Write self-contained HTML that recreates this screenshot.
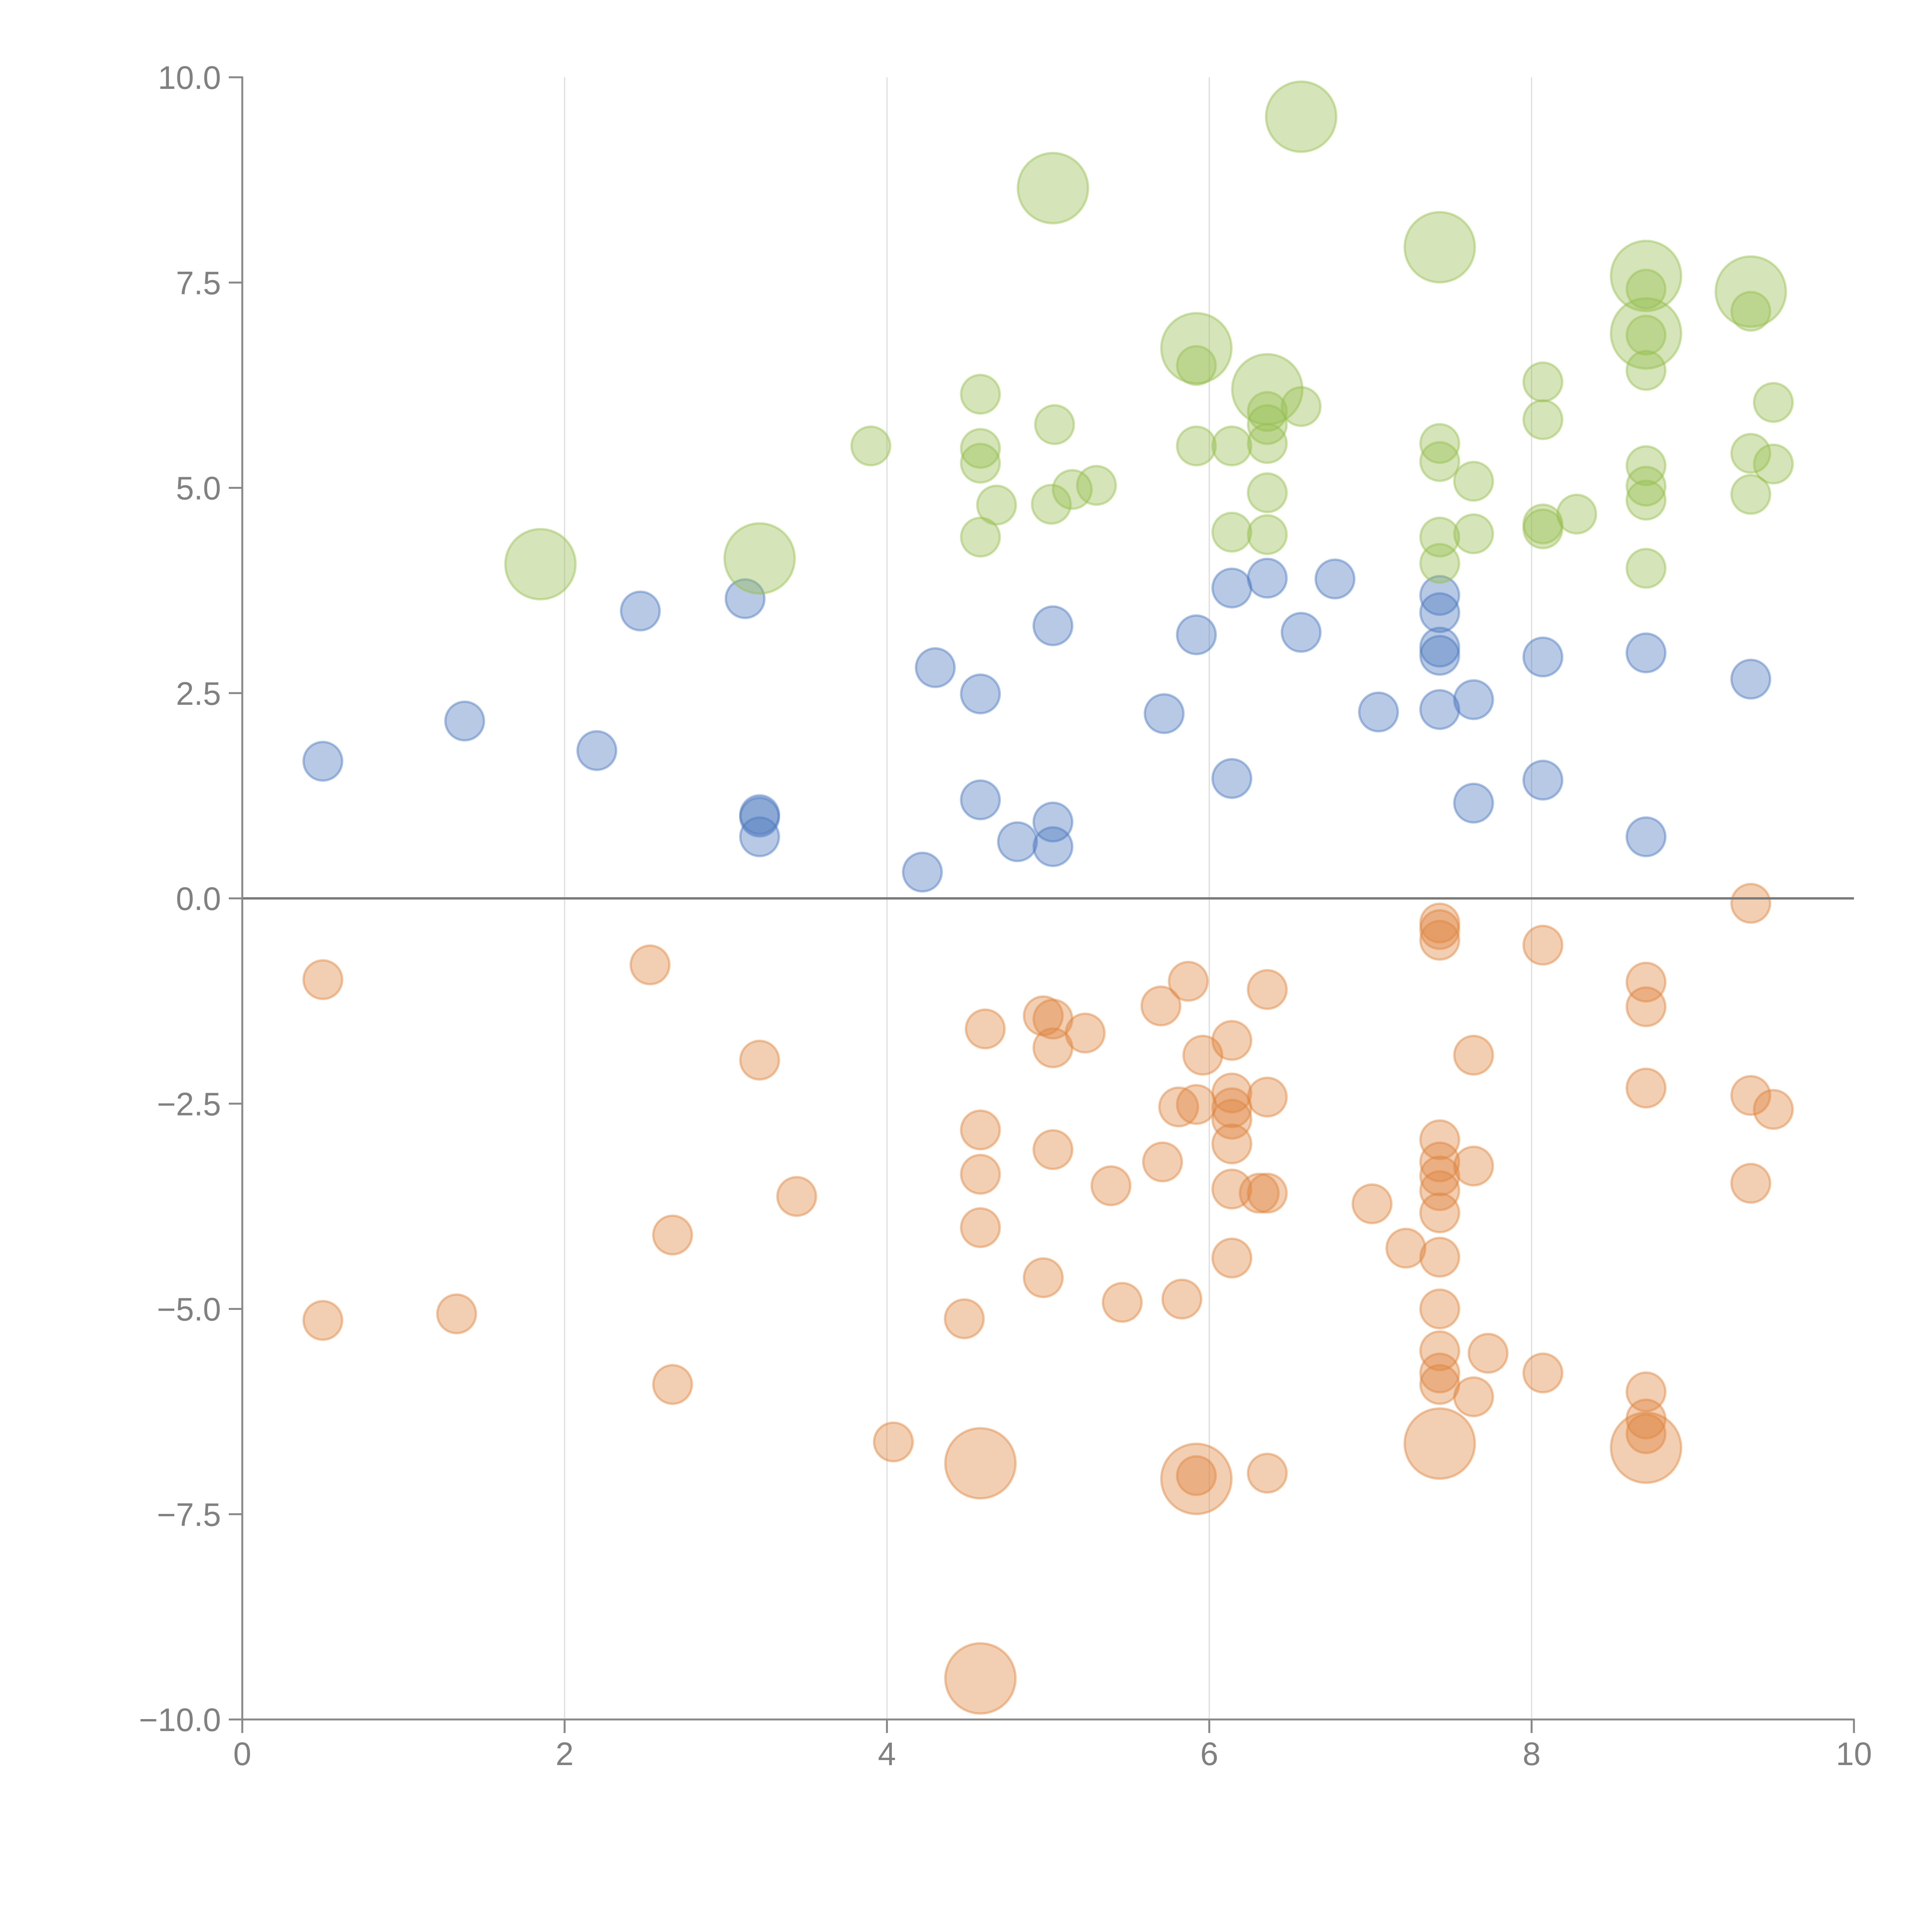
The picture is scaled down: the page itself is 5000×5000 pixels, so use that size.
<!DOCTYPE html>
<html><head><meta charset="utf-8"><style>
html,body{margin:0;padding:0;background:#fff;}
svg{display:block;}
text{font-family:"Liberation Sans",Arial,sans-serif;fill:#808080;font-size:84px;}
</style></head><body>
<svg id="chart" width="5000" height="5000" viewBox="0 0 5000 5000" xmlns="http://www.w3.org/2000/svg">
<g id="grid"></g>
<g id="marks"></g>
<g id="axes"></g>
</svg>
<script>
const xTicks=[0,2,4,6,8,10];
const xTickLabels=["0","2","4","6","8","10"];
const yTicks=[-10,-7.5,-5,-2.5,0,2.5,5,7.5,10];
const yTickLabels=["\u221210.0","\u22127.5","\u22125.0","\u22122.5","0.0","2.5","5.0","7.5","10.0"];

const blueX=[0.50,1.38,2.20,2.47,3.12,3.21,3.21,3.21,4.22,4.30,4.58,4.58,4.81,5.03,5.03,5.03,5.72,5.92,6.14,6.14,6.36,6.57,6.78,7.05,7.43,7.43,7.43,7.43,7.43,7.64,7.64,8.07,8.07,8.71,8.71,9.36];
const blueY=[1.67,2.16,1.80,3.50,3.65,0.99,1.02,0.75,0.32,2.81,2.49,1.20,0.69,3.32,0.93,0.63,2.25,3.21,3.78,1.46,3.90,3.24,3.89,2.27,3.69,3.48,3.06,2.96,2.30,2.42,1.16,2.94,1.44,2.99,0.75,2.67];
const blueS=blueX.map(()=>1);

const greenX=[3.90,4.58,4.58,4.58,4.58,4.68,5.02,5.04,5.15,5.30,5.92,5.92,6.14,6.14,6.36,6.36,6.36,6.36,6.36,6.57,7.43,7.43,7.43,7.43,7.64,7.64,8.07,8.07,8.07,8.07,8.28,8.71,8.71,8.71,8.71,8.71,8.71,8.71,9.36,9.36,9.36,9.50,9.50,
 1.85,3.21,5.03,5.92,6.36,6.57,7.43,8.71,8.71,9.36];
const greenY=[5.51,6.14,5.48,5.30,4.40,4.79,4.80,5.77,4.98,5.03,6.49,5.51,5.51,4.46,5.93,5.77,5.54,4.94,4.43,5.99,5.54,5.32,4.40,4.08,5.08,4.44,6.29,5.83,4.56,4.50,4.68,7.42,6.86,6.43,5.27,5.02,4.85,4.02,7.15,5.42,4.92,6.04,5.29,
 4.07,4.14,8.65,6.70,6.20,9.52,7.93,7.58,6.88,7.39];
const greenS=[1,1,1,1,1,1,1,1,1,1,1,1,1,1,1,1,1,1,1,1,1,1,1,1,1,1,1,1,1,1,1,1,1,1,1,1,1,1,1,1,1,1,1,
 3.3,3.3,3.3,3.3,3.3,3.3,3.3,3.3,3.3,3.3];

const orangeX=[0.50,0.50,1.33,2.53,2.67,2.67,3.21,3.44,4.04,4.48,4.58,4.58,4.58,4.61,4.97,4.97,5.03,5.03,5.03,5.23,5.39,5.46,5.70,5.71,5.81,5.83,5.87,5.92,5.92,5.96,6.14,6.14,6.14,6.14,6.14,6.14,6.14,6.31,6.36,6.36,6.36,6.36,7.01,7.22,7.43,7.43,7.43,7.43,7.43,7.43,7.43,7.43,7.43,7.43,7.43,7.43,7.43,7.64,7.64,7.64,7.73,8.07,8.07,8.71,8.71,8.71,8.71,8.71,8.71,9.36,9.36,9.36,9.50,
 4.58,5.92,4.58,7.43,8.71];
const orangeY=[-0.99,-5.14,-5.06,-0.81,-4.10,-5.92,-1.97,-3.63,-6.62,-5.12,-2.82,-3.36,-4.01,-1.59,-1.43,-4.62,-1.47,-1.82,-3.06,-1.64,-3.50,-4.92,-1.31,-3.21,-2.54,-4.88,-1.01,-2.51,-7.03,-1.91,-1.73,-2.37,-2.55,-2.69,-2.99,-3.54,-4.38,-3.59,-1.11,-2.42,-3.59,-7.00,-3.72,-4.26,-0.30,-0.38,-0.51,-2.94,-3.21,-3.38,-3.56,-3.83,-4.37,-5.00,-5.51,-5.78,-5.92,-1.91,-3.26,-6.07,-5.54,-0.57,-5.78,-1.02,-1.32,-2.31,-6.01,-6.34,-6.52,-0.06,-2.40,-3.47,-2.57,
 -6.88,-7.07,-9.50,-6.64,-6.69];
const orangeS=orangeX.map((v,i)=>i>=orangeX.length-5?3.3:1);

const NS="http://www.w3.org/2000/svg";
const X0=627,X1=4798,Y0=4450,Y1=200;
function xs(v){return X0+(v-0)/(10-0)*(X1-X0);}
function ys(v){return Y0-(v+10)/20*(Y0-Y1);}
function rs(s){return 50*Math.sqrt(s);}
function mk(tag,attrs,parent){const e=document.createElementNS(NS,tag);for(const k in attrs)e.setAttribute(k,attrs[k]);parent.appendChild(e);return e;}

const grid=document.getElementById('grid'),marks=document.getElementById('marks'),axes=document.getElementById('axes');

xTicks.forEach((t,i)=>{
  if(t>0&&t<10){
    const g=mk('line',{x1:xs(t),x2:xs(t),y1:Y1,y2:Y0,stroke:'#dddddd','stroke-width':3},grid);
    
    
  }
});

function series(xa,ya,sa,fill,stroke,name){
  const g=mk('g',{},marks);
  
  
  xa.forEach((x,i)=>{
    const c=mk('circle',{cx:xs(x),cy:ys(ya[i]),r:rs(sa[i]),fill:fill,stroke:stroke,'stroke-width':6},g);
    
    
  });
}
series(blueX,blueY,blueS,'rgba(76,120,190,0.4)','rgba(76,120,190,0.45)','blue');
series(greenX,greenY,greenS,'rgba(150,190,80,0.4)','rgba(150,190,80,0.45)','green');
series(orangeX,orangeY,orangeS,'rgba(222,132,62,0.4)','rgba(222,132,62,0.45)','orange');

const zl=mk('line',{x1:X0,x2:X1,y1:ys(0),y2:ys(0),stroke:'#7a7a7a','stroke-width':6},axes);


const ya=mk('line',{x1:X0,x2:X0,y1:Y1-2,y2:Y0+2,stroke:'#888','stroke-width':5},axes);


const xa=mk('line',{x1:X0-2,x2:X1+2,y1:Y0,y2:Y0,stroke:'#888','stroke-width':5},axes);



xTicks.forEach((t,i)=>{
  const l=mk('line',{x1:xs(t),x2:xs(t),y1:Y0,y2:Y0+35,stroke:'#888','stroke-width':5},axes);
  
  
  const tx=mk('text',{x:xs(t),y:Y0+118,'text-anchor':'middle'},axes);
  tx.textContent=xTickLabels[i];
  
  
});
yTicks.forEach((t,i)=>{
  const l=mk('line',{x1:X0-35,x2:X0,y1:ys(t),y2:ys(t),stroke:'#888','stroke-width':5},axes);
  
  
  const tx=mk('text',{x:X0-55,y:ys(t)+30,'text-anchor':'end'},axes);
  tx.textContent=yTickLabels[i];
  
  
});
</script>
</body></html>
